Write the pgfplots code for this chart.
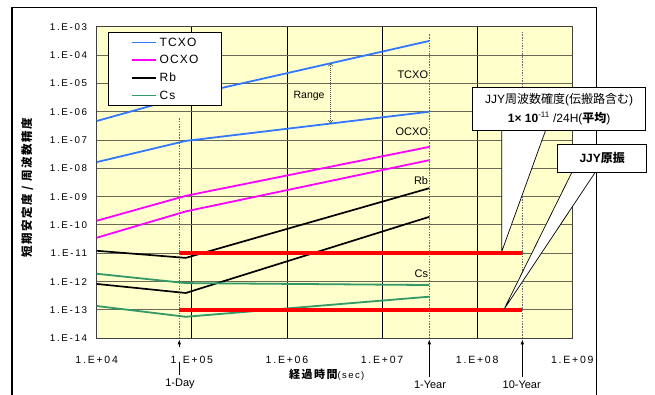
\documentclass[border=0pt]{standalone}
\usepackage{fontspec}
\setmainfont{Liberation Sans}
\newfontfamily\jp{Noto Sans CJK JP}
\newfontfamily\jpsp{Noto Sans CJK JP}[LetterSpace=13]
\newfontfamily\tickfont{Liberation Sans}[LetterSpace=17]
\newfontfamily\legfont{Liberation Sans}[LetterSpace=10]
\newfontfamily\secfont{Liberation Sans}[LetterSpace=15]
\usepackage{pgfplots}
\pgfplotsset{compat=1.18}
\usetikzlibrary{arrows.meta}
\definecolor{tcxo}{RGB}{51,119,255}
\definecolor{ocxo}{RGB}{255,0,255}
\definecolor{csg}{RGB}{51,153,102}
\definecolor{bgy}{RGB}{255,255,204}
\definecolor{gridh}{RGB}{105,105,85}
\definecolor{frameg}{RGB}{64,64,64}
\begin{document}
\begin{tikzpicture}
\begin{scope}[x=1pt,y=-1pt,shift={(-96.7pt,338.3pt)}]
 \useasboundingbox (0,0) rectangle (655,394);
 \fill[white] (0,0) rectangle (655,394);
 \draw[line width=1.2pt] (12,396) -- (12,7.3) -- (596.7,7.3) -- (596.7,396);
 \draw[line width=0.8pt,-{Latex[length=5pt,width=3.5pt]}] (179.3,347) -- (179.3,339.3);
 \draw[line width=0.8pt] (179.3,363.3) -- (179.3,375);
 \draw[line width=0.8pt,-{Latex[length=5pt,width=3.5pt]}] (429.3,376.7) -- (429.3,339.3);
 \draw[line width=0.8pt,-{Latex[length=5pt,width=3.5pt]}] (522.3,376.7) -- (522.3,339.3);
 \node[font=\fontsize{11}{12}\selectfont] at (180,384.3) {1-Day};
 \node[font=\fontsize{11}{12}\selectfont] at (430,384.3) {1-Year};
 \node[font=\fontsize{11}{12}\selectfont] at (521.7,384.3) {10-Year};
\end{scope}
\begin{axis}[
 scale only axis, width=475.6pt, height=311.6pt,
 xmode=log, ymode=log,
 xmin=1e4, xmax=1e9, ymin=1e-14, ymax=1e-3,
 xtick={1e4,1e5,1e6,1e7,1e8,1e9},
 xticklabels={1.E+04,1.E+05,1.E+06,1.E+07,1.E+08,1.E+09},
 ytick={1e-14,1e-13,1e-12,1e-11,1e-10,1e-9,1e-8,1e-7,1e-6,1e-5,1e-4,1e-3},
 yticklabels={1.E-14,1.E-13,1.E-12,1.E-11,1.E-10,1.E-09,1.E-08,1.E-07,1.E-06,1.E-05,1.E-04,1.E-03},
 xminorticks=false, yminorticks=false,
 major tick length=0pt,
 xmajorgrids, ymajorgrids,
 x grid style={black, line width=0.8pt},
 y grid style={gridh, line width=1pt},
 axis line style={frameg, line width=1.3pt},
 axis background/.style={fill=bgy},
 xticklabel style={font=\tickfont\fontsize{10.5}{12}\selectfont, anchor=base, yshift=-25.2pt, inner sep=0pt},
 yticklabel style={font=\tickfont\fontsize{9.8}{11}\selectfont, anchor=east, xshift=-9.4pt, inner sep=0pt},
 xlabel={{\jpsp\bfseries\fontsize{11}{12}\selectfont 経過時間}{\secfont\fontsize{9.5}{10}\selectfont(sec)}},
 xlabel style={at={(axis description cs:0.4838,-0.1155)}, anchor=center},
 ylabel={\jpsp\bfseries\fontsize{11.5}{12}\selectfont 短期安定度 / 周波数精度},
 ylabel style={at={(axis description cs:-0.1460,0.482)}, anchor=center},
 legend style={at={(axis description cs:0.0238,0.982)}, anchor=north west, draw=black, line width=0.8pt, fill=white,
   font=\legfont\fontsize{12}{14}\selectfont, inner xsep=22.5pt, inner ysep=1pt, row sep=0pt,
   nodes={inner sep=0pt, minimum height=17.7pt},
   /tikz/every odd column/.append style={column sep=3pt}},
 legend cell align=left,
 legend image code/.code={\draw[#1, line width=1.6pt] (0pt,0pt) -- (24pt,0pt);},
]
\addplot[tcxo, line width=1.8pt] coordinates {(1e4,4.68e-7) (86400,3.55e-6) (3.15e7,3.16e-4)};
\addlegendentry{TCXO}
\addplot[tcxo, line width=1.8pt, forget plot] coordinates {(1e4,1.66e-8) (86400,9.3e-8) (3.15e7,1.0e-6)};
\addplot[ocxo, line width=1.8pt] coordinates {(1e4,1.41e-10) (86400,1.07e-9) (3.15e7,5.75e-8)};
\addlegendentry{OCXO}
\addplot[ocxo, line width=1.8pt, forget plot] coordinates {(1e4,3.55e-11) (86400,3.02e-10) (3.15e7,1.95e-8)};
\addplot[black, line width=1.7pt] coordinates {(1e4,1.23e-11) (86400,6.9e-12) (3.15e7,2.0e-9)};
\addlegendentry{Rb}
\addplot[black, line width=1.7pt, forget plot] coordinates {(1e4,8.3e-13) (86400,3.98e-13) (3.15e7,1.95e-10)};
\addplot[csg, line width=1.8pt] coordinates {(1e4,1.9e-12) (86400,8.9e-13) (3.15e7,7.6e-13)};
\addlegendentry{Cs}
\addplot[csg, line width=1.8pt, forget plot] coordinates {(1e4,1.38e-13) (86400,5.75e-14) (3.15e7,2.95e-13)};
\addplot[red, line width=4pt, forget plot] coordinates {(7.39e4,1e-11) (3.06e8,1e-11)};
\addplot[red, line width=4pt, forget plot] coordinates {(7.39e4,1e-13) (2.95e8,1e-13)};
\draw[black!60, line width=0.6pt, dash pattern=on 1.5pt off 1.2pt] (axis cs:7.39e4,1e-14) -- (axis cs:7.39e4,5.98e-7);
\draw[black!60, line width=0.6pt, dash pattern=on 1.5pt off 1.2pt] (axis cs:3.14e7,1e-14) -- (axis cs:3.14e7,5.52e-4);
\draw[black!60, line width=0.6pt, dash pattern=on 1.5pt off 1.2pt] (axis cs:2.985e8,1e-14) -- (axis cs:2.985e8,6.5e-4);
\draw[black!70, line width=0.6pt, dash pattern=on 1pt off 1pt, {Straight Barb[length=2.5pt,width=4.5pt]}-{Straight Barb[length=2.5pt,width=4.5pt]}] (axis cs:2.88e6,5.1e-5) -- (axis cs:2.88e6,3.9e-7);
\node[font=\fontsize{10.5}{12}\selectfont] at (axis cs:1.71e6,3.66e-6) {Range};
\node[anchor=east, inner sep=0pt, font=\fontsize{11}{12}\selectfont] at (axis cs:3.06e7,1.97e-5) {TCXO};
\node[anchor=east, inner sep=0pt, font=\fontsize{11}{12}\selectfont] at (axis cs:3.06e7,1.97e-7) {OCXO};
\node[anchor=east, inner sep=0pt, font=\fontsize{11}{12}\selectfont] at (axis cs:3.06e7,3.66e-9) {Rb};
\node[anchor=east, inner sep=0pt, font=\fontsize{11}{12}\selectfont] at (axis cs:3.06e7,1.97e-12) {Cs};
\end{axis}
\begin{scope}[x=1pt,y=-1pt,shift={(-96.7pt,338.3pt)}]
 \fill[white] (501.7,129) -- (501.7,251.7) -- (545.7,129) -- cycle;
 \draw[line width=0.7pt] (501.7,130) -- (501.7,251.7) -- (545.7,130);
 \draw[line width=0.9pt, fill=white] (472.7,87.3) rectangle (645.7,130);
 \node[align=center, font=\fontsize{12}{19}\selectfont] at (559.2,108.7)
   {JJY{\jp 周波数確度}({\jp 伝搬路含む})\\{\bfseries 1× 10}\textsuperscript{-11} /24H({\jp\bfseries 平均})};
 \fill[white] (571.7,172) -- (504,309.3) -- (595,172) -- cycle;
 \draw[line width=0.7pt] (571.7,172.7) -- (504,309.3) -- (595,172.7);
 \draw[line width=0.9pt, fill=white] (557.7,144) rectangle (646.7,172.7);
 \node[font=\fontsize{12}{14}\selectfont\bfseries] at (602.2,158.3) {JJY{\jp 原振}};
\end{scope}
\end{tikzpicture}
\end{document}
